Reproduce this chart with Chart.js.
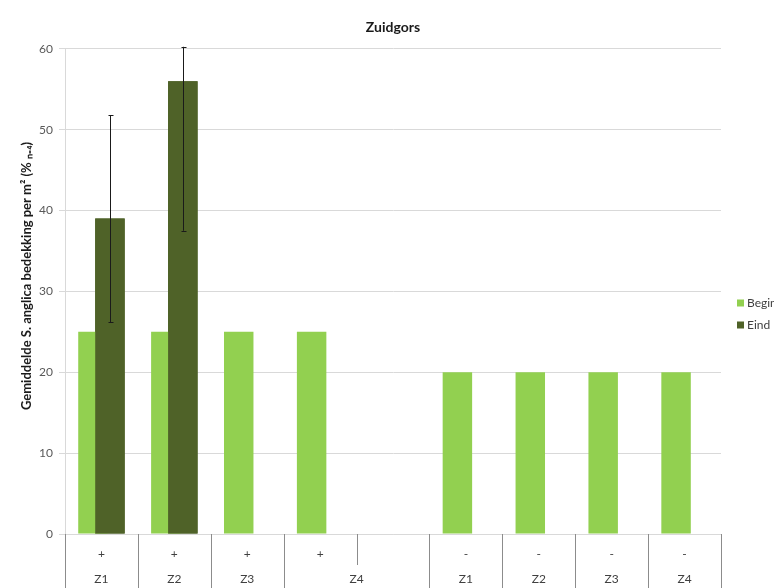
<!DOCTYPE html>
<html>
<head>
<meta charset="utf-8">
<script src="https://cdn.jsdelivr.net/npm/chart.js@4/dist/chart.umd.min.js"></script>
<style>
    html, body { margin: 0; padding: 0; background: #fff; }
    .wrap { width: 774px; height: 588px; position: relative; }
</style>
</head>
<body>
<div class="wrap"><canvas id="chart"></canvas></div>
<script>
// categories: top row (behandeling) and bottom row (zones)
const signLabels = ['+', '+', '+', '+', '', '-', '-', '-', '-'];
const groupLabels = ['Z1', 'Z2', 'Z3', 'Z4', 'Z1', 'Z2', 'Z3', 'Z4'];
const groupSpans = [1, 1, 1, 2, 1, 1, 1, 1];

// series
const beginValues = [25, 25, 25, 25, null, 20, 20, 20, 20];
const eindValues = [39, 56, null, null, null, null, null, null, null];
const eindErrors = [12.8, 18.5, null, null, null, null, null, null, null];

const yTitle = 'Gemiddelde S. anglica bedekking per m² (% ₙ₌₄)';

const FONT = 'Lato, "Liberation Sans", sans-serif';
const LABEL_COLOR = '#404040';

// two-level category axis drawn under the x axis
const categoryTable = {
    id: 'categoryTable',
    afterDraw(chart) {
        const ctx = chart.ctx;
        const x = chart.scales.x;
        const top = x.top;
        const rowSplit = top + 31;
        const bottom = chart.height;

        // which boundaries separate groups
        const groupEdges = new Set([0]);
        let cum = 0;
        groupSpans.forEach(s => { cum += s; groupEdges.add(cum); });

        ctx.save();
        ctx.strokeStyle = '#8c8c8c';
        ctx.lineWidth = 1;
        for (let k = 0; k <= signLabels.length; k++) {
            const px = Math.round(x.getPixelForValue(k - 0.5)) + 0.5;
            ctx.beginPath();
            ctx.moveTo(px, top);
            ctx.lineTo(px, groupEdges.has(k) ? bottom : rowSplit);
            ctx.stroke();
        }

        ctx.fillStyle = LABEL_COLOR;
        ctx.font = '12px ' + FONT;
        ctx.textAlign = 'center';
        ctx.textBaseline = 'middle';
        let start = 0;
        groupLabels.forEach((lab, i) => {
            const cx = x.getPixelForValue(start + groupSpans[i] / 2 - 0.5);
            ctx.fillText(lab, cx, top + 45);
            start += groupSpans[i];
        });
        ctx.restore();
    }
};

// Eind bars sit in front of Begin bars, then the error bars
const eindOnTop = {
    id: 'eindOnTop',
    afterDatasetsDraw(chart) {
        const ctx = chart.ctx;
        const y = chart.scales.y;
        const area = chart.chartArea;
        const meta = chart.getDatasetMeta(1);
        ctx.save();
        meta.data.forEach(el => el.draw(ctx));

        ctx.strokeStyle = '#1a1a1a';
        ctx.lineWidth = 1;
        eindValues.forEach((v, i) => {
            const e = eindErrors[i];
            if (v == null || e == null) return;
            const bx = Math.round(meta.data[i].x) + 0.5;
            const yHi = y.getPixelForValue(v + e);
            const yLo = y.getPixelForValue(v - e);
            const top = Math.max(yHi, area.top - 2);
            ctx.beginPath();
            ctx.moveTo(bx, top);
            ctx.lineTo(bx, yLo);
            ctx.moveTo(bx - 2, Math.round(yLo) + 0.5);
            ctx.lineTo(bx + 3, Math.round(yLo) + 0.5);
            ctx.moveTo(bx - 2, Math.round(top) + 0.5);
            ctx.lineTo(bx + 3, Math.round(top) + 0.5);
            ctx.stroke();
        });
        ctx.restore();
    }
};

// legend on the right, partly cut off like the original, plus the y title
const sideTexts = {
    id: 'sideTexts',
    afterDraw(chart) {
        const ctx = chart.ctx;
        const lx = chart.chartArea.right + 16;
        let ly = 303;
        ctx.save();
        ctx.font = '12px ' + FONT;
        ctx.textBaseline = 'middle';
        ctx.textAlign = 'left';
        chart.data.datasets.forEach(ds => {
            ctx.fillStyle = ds.backgroundColor;
            ctx.fillRect(lx, ly - 3.5, 7, 7);
            ctx.fillStyle = LABEL_COLOR;
            ctx.fillText(ds.label, lx + 10, ly);
            ly += 22;
        });

        ctx.translate(27, 276);
        ctx.rotate(-Math.PI / 2);
        ctx.textAlign = 'center';
        ctx.fillStyle = '#1a1a1a';
        ctx.font = 'bold 13px ' + FONT;
        ctx.fillText(yTitle, 0, 0);
        ctx.restore();
    }
};

document.addEventListener('DOMContentLoaded', function () {
    const ctx = document.getElementById('chart').getContext('2d');
    new Chart(ctx, {
        type: 'bar',
        data: {
            labels: signLabels,
            datasets: [
                {
                    label: 'Begin',
                    data: beginValues,
                    backgroundColor: '#92d050',
                    categoryPercentage: 0.466,
                    barPercentage: 1.735
                },
                {
                    label: 'Eind',
                    data: eindValues,
                    backgroundColor: '#4f6228',
                    categoryPercentage: 0.466,
                    barPercentage: 1.735
                }
            ]
        },
        options: {
            responsive: true,
            maintainAspectRatio: false,
            animation: false,
            layout: { padding: { top: 9, left: 16, right: 53, bottom: 0 } },
            plugins: {
                legend: { display: false },
                tooltip: { enabled: false },
                title: {
                    display: true,
                    text: 'Zuidgors',
                    fullSize: false,
                    color: '#1a1a1a',
                    font: { family: FONT, size: 14, weight: 'bold' },
                    padding: { top: 10, bottom: 13 }
                }
            },
            scales: {
                x: {
                    grid: { display: false },
                    border: { display: true, color: '#d9d9d9' },
                    ticks: {
                        color: LABEL_COLOR,
                        font: { family: FONT, size: 12 },
                        padding: 5,
                        autoSkip: false,
                        maxRotation: 0
                    },
                    afterFit: s => { s.height = 54; }
                },
                y: {
                    min: 0,
                    max: 60,
                    ticks: {
                        stepSize: 10,
                        color: '#595959',
                        font: { family: FONT, size: 12 },
                        padding: 6
                    },
                    grid: { color: '#d9d9d9', tickLength: 6 },
                    border: { display: true, color: '#d9d9d9' },
                    afterFit: s => { s.width = 49; }
                }
            }
        },
        plugins: [categoryTable, eindOnTop, sideTexts]
    });
});
</script>
</body>
</html>
